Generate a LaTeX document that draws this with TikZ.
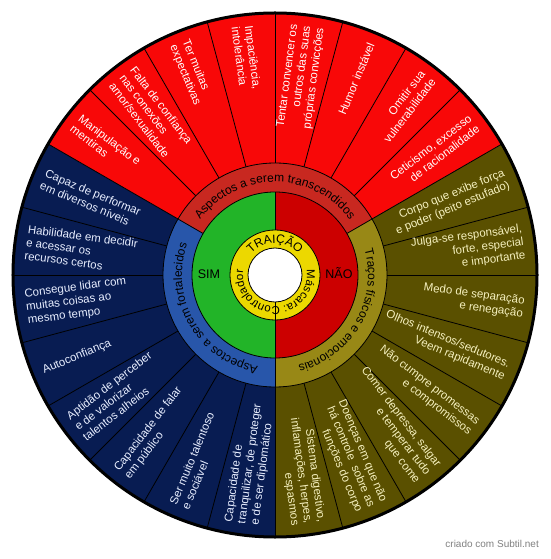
\documentclass[tikz,border=0pt]{standalone}
\usepackage{fontspec}
\setmainfont{Liberation Sans}
\usetikzlibrary{decorations.text}
\definecolor{outred}{RGB}{248,8,8}
\definecolor{catred}{RGB}{200,40,32}
\definecolor{innred}{RGB}{204,0,0}
\definecolor{ingreen}{RGB}{34,180,40}
\definecolor{inyellow}{RGB}{236,216,0}
\definecolor{outblue}{RGB}{8,28,82}
\definecolor{catblue}{RGB}{40,86,170}
\definecolor{outolive}{RGB}{90,80,0}
\definecolor{catolive}{RGB}{152,136,22}
\definecolor{txtblue}{RGB}{232,238,255}
\definecolor{txtolive}{RGB}{245,240,190}
\newcommand\ringfontA{\fontsize{12}{14}\selectfont}
\newcommand\ringfontB{\fontsize{11.5}{13}\selectfont}
\tikzset{
  segline/.style={draw=black, line width=0.8pt},
  seglabel/.style={font=\fontsize{11.5}{13.3}\selectfont, inner sep=0pt},
  rside/.style={seglabel, anchor=east, align=right},
  lside/.style={seglabel, anchor=west, align=left},
  redtxt/.style={text=white},
  bluetxt/.style={text=txtblue},
  olivetxt/.style={text=txtolive},
  bigword/.style={font=\fontsize{12.5}{14}\selectfont, inner sep=0pt},
}
\begin{document}
\begin{tikzpicture}[x=1pt,y=1pt]
\useasboundingbox (-275,-284) rectangle (275,275);
% outer sectors
\fill[outred] (0,0) -- (30:262) arc[start angle=30,end angle=150,radius=262] -- cycle;
\fill[outblue] (0,0) -- (150:262) arc[start angle=150,end angle=270,radius=262] -- cycle;
\fill[outolive] (0,0) -- (270:262) arc[start angle=270,end angle=390,radius=262] -- cycle;
\foreach \a in {0,15,...,345} \draw[segline] (\a:112) -- (\a:262);
% category ring
\fill[catred] (0,0) -- (30:112) arc[start angle=30,end angle=150,radius=112] -- cycle;
\fill[catblue] (0,0) -- (150:112) arc[start angle=150,end angle=270,radius=112] -- cycle;
\fill[catolive] (0,0) -- (270:112) arc[start angle=270,end angle=390,radius=112] -- cycle;
\foreach \a in {30,150,270} \draw[segline] (\a:83) -- (\a:112);
\draw[segline] (0,0) circle[radius=112];
% inner halves
\fill[ingreen] (0,0) -- (90:83) arc[start angle=90,end angle=270,radius=83] -- cycle;
\fill[innred] (0,0) -- (-90:83) arc[start angle=-90,end angle=90,radius=83] -- cycle;
\draw[segline] (0,0) circle[radius=83];
\draw[segline] (90:45) -- (90:83);
\draw[segline] (-90:27) -- (-90:83);
% yellow ring and white centre
\fill[inyellow] (0,0) circle[radius=45];
\draw[segline] (0,0) circle[radius=45];
\draw[segline] (-90:27) -- (-90:45);
\fill[white] (0,0) circle[radius=27];
\draw[segline] (0,0) circle[radius=27];
% outer border
\draw[line width=3pt] (0,0) circle[radius=262];

% red items
\node[lside,redtxt,rotate=-37.5] (r1) at (142.5:251) {Manipulação e\\mentiras};
\node[lside,redtxt,rotate=-52.5] (r2) at (127.5:251) {Falta de confiança\\nas conexões\\amor/sexualidade};
\node[lside,redtxt,rotate=-67.5] (r3) at (112.5:251) {Ter muitas\\expectativas};
\node[lside,redtxt,rotate=-82.5] (r4) at (97.5:251) {Impaciência,\\intolerância};
\node[rside,redtxt,rotate=82.5] (r5) at (82.5:251) {Tentar convencer os\\outros das suas\\próprias convicções};
\node[rside,redtxt,rotate=67.5] (r6) at (67.5:251) {Humor instável};
\node[rside,redtxt,rotate=52.5] (r7) at (52.5:251) {Omitir sua\\vulnerabilidade};
\node[rside,redtxt,rotate=37.5] (r8) at (37.5:251) {Ceticismo, excesso\\de racionalidade};
% olive items
\node[rside,olivetxt,rotate=22.5] (o1) at (22.5:251) {Corpo que exibe força\\e poder (peito estufado)};
\node[rside,olivetxt,rotate=7.5] (o2) at (7.5:251) {Julga-se responsável,\\forte, especial\\e importante};
\node[rside,olivetxt,rotate=-7.5] (o3) at (-7.5:251) {Medo de separação\\e renegação};
\node[rside,olivetxt,rotate=-22.5] (o4) at (-22.5:251) {Olhos intensos/sedutores.\\Veem rapidamente};
\node[rside,olivetxt,rotate=-37.5] (o5) at (-37.5:251) {Não cumpre promessas\\e compromissos};
\node[rside,olivetxt,rotate=-52.5] (o6) at (-52.5:251) {Comer depressa, salgar\\e temperar tudo\\que come};
\node[rside,olivetxt,rotate=-67.5] (o7) at (-67.5:251) {Doenças em que não\\há controle~ sobre as\\funções do corpo};
\node[rside,olivetxt,rotate=-82.5] (o8) at (-82.5:251) {Sistema digestivo,\\inflamações, herpes,\\espasmos};
% blue items
\node[lside,bluetxt,rotate=-22.5] (b1) at (157.5:251) {Capaz de performar\\em diversos níveis};
\node[lside,bluetxt,rotate=-7.5] (b2) at (172.5:251) {Habilidade em decidir\\e acessar os\\recursos certos};
\node[lside,bluetxt,rotate=7.5] (b3) at (187.5:251) {Consegue lidar com\\muitas coisas ao\\mesmo tempo};
\node[lside,bluetxt,rotate=22.5] (b4) at (202.5:251) {Autoconfiança};
\node[lside,bluetxt,rotate=37.5] (b5) at (217.5:251) {Aptidão de perceber\\e de valorizar\\talentos alheios};
\node[lside,bluetxt,rotate=52.5] (b6) at (232.5:251) {Capacidade de falar\\em público};
\node[lside,bluetxt,rotate=67.5] (b7) at (247.5:251) {Ser muito talentoso\\e sociável};
\node[lside,bluetxt,rotate=82.5] (b8) at (262.5:251) {Capacidade de\\tranquilizar, de proteger\\e de ser diplomático};

% ring texts
\path[decorate, decoration={text along path, text align=center,
  text={|\ringfontA|Aspectos a serem transcendidos}}]
  (200:93) arc[start angle=200, end angle=-20, radius=93];
\path[decorate, decoration={text along path, text align=center,
  text={|\ringfontA|Traços físicos e emocionais}}]
  (60:93) arc[start angle=60, end angle=-120, radius=93];
\path[decorate, decoration={text along path, text align=center,
  text={|\ringfontA|Aspectos a serem fortalecidos}}]
  (300:93) arc[start angle=300, end angle=120, radius=93];
\path[decorate, decoration={text along path, text align=center,
  text={|\ringfontA|TRAIÇÃO}}]
  (270:32) arc[start angle=270, end angle=-90, radius=32];
\path[decorate, decoration={text along path, text align=center,
  text={|\ringfontB|Máscara: Controlador}}]
  (90:32) arc[start angle=90, end angle=-270, radius=32];

\node[bigword] (sim) at (-66,1) {SIM};
\node[bigword] (nao) at (64,2) {NÃO};
\node[font=\fontsize{10}{12}\selectfont, text=black!50, anchor=east, inner sep=0pt] (wm) at (264,-269) {criado com Subtil.net};
\end{tikzpicture}
\end{document}
